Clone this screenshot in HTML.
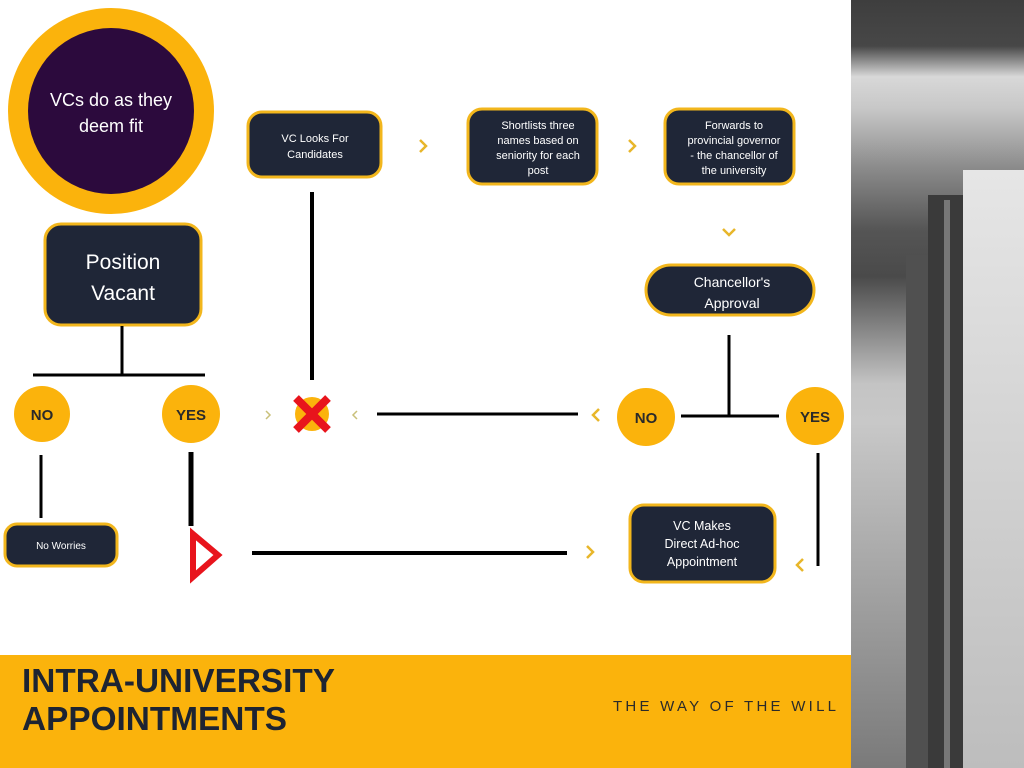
<!DOCTYPE html>
<html><head><meta charset="utf-8"><style>
html,body{margin:0;padding:0;width:1024px;height:768px;overflow:hidden;background:#fff}
svg text{font-family:"Liberation Sans",sans-serif}
</style></head><body>
<svg width="1024" height="768" viewBox="0 0 1024 768" xmlns="http://www.w3.org/2000/svg">
<defs>
<linearGradient id="bg" x1="0" y1="0" x2="0" y2="1">
<stop offset="0" stop-color="#3e3e3e"/><stop offset="0.06" stop-color="#474747"/>
<stop offset="0.1" stop-color="#d8d8d8"/><stop offset="0.14" stop-color="#c8c8c8"/>
<stop offset="0.22" stop-color="#8a8a8a"/><stop offset="0.3" stop-color="#555"/>
<stop offset="0.36" stop-color="#4a4a4a"/><stop offset="0.5" stop-color="#c4c4c4"/>
<stop offset="0.55" stop-color="#c8c8c8"/><stop offset="1" stop-color="#7a7a7a"/>
</linearGradient>
<linearGradient id="rt" x1="0" y1="0" x2="0" y2="1">
<stop offset="0" stop-color="#e6e6e6"/><stop offset="1" stop-color="#bdbdbd"/>
</linearGradient>
</defs>
<!-- photo -->
<rect x="851" y="0" width="173" height="768" fill="url(#bg)"/>
<rect x="963" y="170" width="61" height="598" fill="url(#rt)"/>
<rect x="906" y="255" width="22" height="513" fill="#505050"/>
<rect x="928" y="195" width="35" height="573" fill="#3a3a3a"/>
<rect x="944" y="200" width="6" height="568" fill="#777"/>
<!-- bottom band -->
<rect x="0" y="655" width="851" height="113" fill="#fbb30c"/>
<text x="22" y="692" font-size="33" font-weight="bold" fill="#1d2432" textLength="313" lengthAdjust="spacingAndGlyphs">INTRA-UNIVERSITY</text>
<text x="22" y="730" font-size="33" font-weight="bold" fill="#1d2432" textLength="265" lengthAdjust="spacingAndGlyphs">APPOINTMENTS</text>
<text x="613" y="711" font-size="15" fill="#2a2a2a" textLength="223" lengthAdjust="spacing">THE WAY OF THE WILL</text>
<!-- circle -->
<circle cx="111" cy="111" r="103" fill="#fbb30c"/>
<circle cx="111" cy="111" r="83" fill="#2c0a3d"/>
<text x="111" y="106" font-size="18" fill="#fff" text-anchor="middle">VCs do as they</text>
<text x="111" y="132" font-size="18" fill="#fff" text-anchor="middle">deem fit</text>
<!-- nodes -->
<g fill="#1f2637" stroke="#f2b61c" stroke-width="3">
<rect x="45" y="224" width="156" height="101" rx="16"/>
<rect x="248" y="112" width="133" height="65" rx="14"/>
<rect x="468" y="109" width="129" height="75" rx="14"/>
<rect x="665" y="109" width="129" height="75" rx="14"/>
<rect x="646" y="265" width="168" height="50" rx="25"/>
<rect x="5" y="524" width="112" height="42" rx="12"/>
<rect x="630" y="505" width="145" height="77" rx="14"/>
</g>
<g fill="#fff" text-anchor="middle">
<text x="123" y="269" font-size="21">Position</text>
<text x="123" y="300" font-size="21">Vacant</text>
<text x="315" y="142" font-size="11">VC Looks For</text>
<text x="315" y="158" font-size="11">Candidates</text>
<text x="538" y="129" font-size="11">Shortlists three</text>
<text x="538" y="144" font-size="11">names based on</text>
<text x="538" y="159" font-size="11">seniority for each</text>
<text x="538" y="174" font-size="11">post</text>
<text x="734" y="129" font-size="11">Forwards to</text>
<text x="734" y="144" font-size="11">provincial governor</text>
<text x="734" y="159" font-size="11">- the chancellor of</text>
<text x="734" y="174" font-size="11">the university</text>
<text x="732" y="287" font-size="14">Chancellor's</text>
<text x="732" y="308" font-size="14">Approval</text>
<text x="61" y="549" font-size="10">No Worries</text>
<text x="702" y="530" font-size="12.5">VC Makes</text>
<text x="702" y="548" font-size="12.5">Direct Ad-hoc</text>
<text x="702" y="566" font-size="12.5">Appointment</text>
</g>
<!-- yes/no circles -->
<g fill="#fbb30c">
<circle cx="42" cy="414" r="28"/><circle cx="191" cy="414" r="29"/>
<circle cx="646" cy="417" r="29"/><circle cx="815" cy="416" r="29"/>
<circle cx="312" cy="414" r="17"/>
</g>
<g fill="#2a2a2a" font-weight="bold" font-size="15" text-anchor="middle">
<text x="42" y="420">NO</text><text x="191" y="420">YES</text>
<text x="646" y="423">NO</text><text x="815" y="422">YES</text>
</g>
<!-- lines -->
<g stroke="#000" fill="none">
<line x1="122" y1="326" x2="122" y2="375" stroke-width="3"/>
<line x1="33" y1="375" x2="205" y2="375" stroke-width="3"/>
<line x1="312" y1="192" x2="312" y2="380" stroke-width="4"/>
<line x1="377" y1="414" x2="578" y2="414" stroke-width="3"/>
<line x1="729" y1="335" x2="729" y2="416" stroke-width="3"/>
<line x1="681" y1="416" x2="779" y2="416" stroke-width="3"/>
<line x1="818" y1="453" x2="818" y2="566" stroke-width="3"/>
<line x1="41" y1="455" x2="41" y2="518" stroke-width="3"/>
<line x1="191" y1="452" x2="191" y2="526" stroke-width="5"/>
<line x1="252" y1="553" x2="567" y2="553" stroke-width="4"/>
</g>
<!-- chevrons -->
<g stroke="#e8b62a" stroke-width="2.5" fill="none">
<polyline points="420,140 426,146 420,152"/>
<polyline points="629,140 635,146 629,152"/>
<polyline points="723,229 729,235 735,229"/>
<polyline points="266,411 270,415 266,419" stroke="#c9c07a" stroke-width="1.5"/>
<polyline points="357,411 353,415 357,419" stroke="#c9c07a" stroke-width="1.5"/>
<polyline points="599,409 593,415 599,421"/>
<polyline points="587,546 593,552 587,558"/>
<polyline points="803,559 797,565 803,571"/>
</g>
<!-- red X -->
<g stroke="#e8141c" stroke-width="8">
<line x1="296" y1="398" x2="328" y2="430"/><line x1="328" y1="398" x2="296" y2="430"/>
</g>
<polygon points="193,534 218,555 193,577" fill="none" stroke="#e8141c" stroke-width="6" stroke-linejoin="miter"/>
</svg>
</body></html>
